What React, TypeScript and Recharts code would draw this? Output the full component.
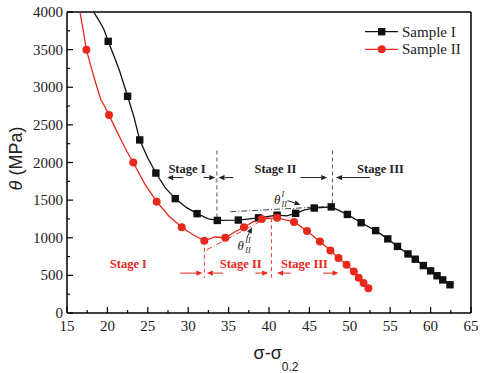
import React from 'react';
import { LineChart, Line, XAxis, YAxis, ReferenceLine, ReferenceDot, Legend } from 'recharts';

// ---- Data ----
const sampleIx = [18.3, 19.0, 19.6, 20.1, 20.8, 21.5, 22.5, 23.3, 24.0, 25.0, 26.0, 27.2, 28.4, 29.8, 31.1, 32.5, 33.6, 36.2, 38.7, 41.0, 42.2, 43.3, 44.4, 45.6, 47.7, 49.7, 51.4, 53.2, 54.7, 55.9, 57.2, 58.1, 59.1, 60.0, 60.8, 61.5, 62.4];
const sampleIy = [4000, 3880, 3760, 3610, 3420, 3220, 2880, 2600, 2300, 2060, 1860, 1660, 1520, 1400, 1320, 1250, 1230, 1235, 1265, 1300, 1290, 1325, 1370, 1395, 1410, 1310, 1200, 1095, 985, 885, 785, 715, 630, 560, 495, 440, 375];
const sampleImark = [0, 0, 0, 1, 0, 0, 1, 0, 1, 0, 1, 0, 1, 0, 1, 0, 1, 1, 1, 1, 0, 1, 0, 1, 1, 1, 1, 1, 1, 1, 1, 1, 1, 1, 1, 1, 1];

const sampleIIx = [16.6, 17.0, 17.4, 18.0, 18.6, 19.2, 19.6, 20.2, 21.0, 21.7, 22.4, 23.2, 24.6, 26.1, 27.6, 29.2, 30.6, 32.0, 33.3, 34.6, 35.8, 36.9, 38.0, 39.1, 41.0, 43.1, 44.7, 46.3, 47.6, 48.6, 49.6, 50.5, 51.1, 51.7, 52.3];
const sampleIIy = [4000, 3760, 3500, 3260, 3040, 2830, 2760, 2630, 2450, 2300, 2150, 2000, 1720, 1480, 1290, 1140, 1040, 960, 1010, 1000, 1080, 1140, 1210, 1250, 1265, 1210, 1090, 950, 830, 730, 640, 550, 470, 400, 330];
const sampleIImark = [0, 0, 1, 0, 0, 0, 0, 1, 0, 0, 0, 1, 0, 1, 0, 1, 0, 1, 0, 1, 0, 1, 0, 1, 1, 1, 1, 1, 1, 1, 1, 1, 1, 1, 1];

const xTicks = [15, 17.5, 20, 22.5, 25, 27.5, 30, 32.5, 35, 37.5, 40, 42.5, 45, 47.5, 50, 52.5, 55, 57.5, 60, 62.5, 65];
const yTicks = [0, 250, 500, 750, 1000, 1250, 1500, 1750, 2000, 2250, 2500, 2750, 3000, 3250, 3500, 3750, 4000];

// stage annotations (data coordinates)
const blackBoundaries = [33.55, 47.85];
const blackBoundaryTop = 2160;
const blackBoundaryBottom = [1200, 1410];
const blackStageLabels = ['Stage I', 'Stage II', 'Stage III'];
const blackStageX = [29.85, 40.8, 53.8];
const blackStageY = 1920;
const blackArrowY = 1800;
const blackArrows = [[29.4, 27.4], [31.9, 33.35], [35.6, 33.75], [43.9, 47.2], [52.5, 48.3]];

const redBoundaries = [32.0, 40.3];
const redBoundaryTop = [960, 1260];
const redBoundaryBottom = 470;
const redStageLabels = ['Stage I', 'Stage II', 'Stage III'];
const redStageX = [22.6, 36.5, 44.4];
const redStageY = 645;
const redArrowY = 530;
const redArrows = [[29.0, 31.75], [34.3, 32.3], [38.3, 39.9], [42.7, 41.0], [46.7, 48.6]];

const blackTangent = [[35.2, 1345], [48.0, 1420]];
const redTangent = [[32.3, 840], [40.4, 1300]];
const thetaIPos = [41.0, 1507];
const thetaIArrow = [[42.3, 1493], [43.9, 1440]];
const thetaIIPos = [36.5, 895];
const thetaIIArrow = [[37.3, 1010], [37.9, 1140]];

const BLACK = '#111111';
const RED = '#e8281c';
const SERIF = 'Liberation Serif, Times New Roman, serif';
const SANS = 'Liberation Sans, Arial, sans-serif';

const sampleIData = sampleIx.map((x, i) => ({ x, y: sampleIy[i], m: sampleImark[i] }));
const sampleIIData = sampleIIx.map((x, i) => ({ x, y: sampleIIy[i], m: sampleIImark[i] }));

const SquareDot = (props: any) => {
  const { cx, cy, payload, index } = props;
  if (!payload || !payload.m || cx == null || cy == null) return <g key={'s' + index} />;
  return <rect key={'s' + index} x={cx - 3.7} y={cy - 3.7} width={7.4} height={7.4} fill={BLACK} />;
};
const CircleDot = (props: any) => {
  const { cx, cy, payload, index } = props;
  if (!payload || !payload.m || cx == null || cy == null) return <g key={'c' + index} />;
  return <circle key={'c' + index} cx={cx} cy={cy} r={4} fill={RED} />;
};

const XTick = (props: any) => {
  const { x, y, payload } = props;
  const v = payload.value;
  const major = Math.abs(v % 5) < 1e-6;
  return (
    <g>
      <line x1={x} x2={x} y1={y} y2={y - (major ? 6 : 3)} stroke="#000" strokeWidth={1.2} />
      {major && (
        <text x={x} y={y + 18} textAnchor="middle" style={{ fontFamily: SERIF }} fontSize={15} fill="#222">{v}</text>
      )}
    </g>
  );
};
const YTick = (props: any) => {
  const { x, y, payload } = props;
  const v = payload.value;
  const major = v % 500 === 0;
  return (
    <g>
      <line x1={x} x2={x + (major ? 6 : 3)} y1={y} y2={y} stroke="#000" strokeWidth={1.2} />
      {major && (
        <text x={x - 4} y={y + 5} textAnchor="end" style={{ fontFamily: SERIF }} fontSize={15} fill="#222">{v}</text>
      )}
    </g>
  );
};

const makeArrow = (color: string) => (p: any) => {
  const { x1, y1, x2, y2 } = p;
  const dx = x2 - x1, dy = y2 - y1;
  const len = Math.sqrt(dx * dx + dy * dy) || 1;
  const ux = dx / len, uy = dy / len;
  const hl = 6, hw = 2.6;
  const bx = x2 - ux * hl, by = y2 - uy * hl;
  return (
    <g>
      <line x1={x1} y1={y1} x2={bx} y2={by} stroke={color} strokeWidth={1} />
      <polygon points={`${x2},${y2} ${bx - uy * hw},${by + ux * hw} ${bx + uy * hw},${by - ux * hw}`} fill={color} />
    </g>
  );
};

const makeText = (label: string, color: string) => (p: any) => (
  <text x={p.cx} y={p.cy} textAnchor="middle" dominantBaseline="central" style={{ fontFamily: SERIF }} fontWeight="bold" fontSize={12.5} fill={color}>{label}</text>
);

const makeTheta = (sup: string, sub: string) => (p: any) => (
  <g style={{ fontFamily: SERIF }} fill="#222">
    <text x={p.cx} y={p.cy + 4} fontSize={13} fontStyle="italic" textAnchor="middle">θ</text>
    <text x={p.cx + 4.5} y={p.cy - 3} fontSize={8} fontStyle="italic">{sup}</text>
    <text x={p.cx + 4.5} y={p.cy + 7} fontSize={8} fontStyle="italic">{sub}</text>
  </g>
);

const LegendContent = () => (
  <svg width={110} height={40}>
    <line x1={3} x2={36} y1={9.7} y2={9.7} stroke={BLACK} strokeWidth={1.3} />
    <rect x={19.7 - 3.7} y={9.7 - 3.7} width={7.4} height={7.4} fill={BLACK} />
    <text x={40} y={14.5} style={{ fontFamily: SERIF }} fontSize={15} fill="#222">Sample I</text>
    <line x1={3} x2={36} y1={27.3} y2={27.3} stroke={RED} strokeWidth={1.3} />
    <circle cx={19.7} cy={27.3} r={4} fill={RED} />
    <text x={40} y={32} style={{ fontFamily: SERIF }} fontSize={15} fill="#222">Sample II</text>
  </svg>
);

const XLabel = (props: any) => {
  const vb = props.viewBox || { x: 67, y: 313, width: 404, height: 60 };
  const cx = vb.x + vb.width / 2 + 7;
  const by = vb.y + 46;
  return (
    <text x={cx} y={by} textAnchor="middle" style={{ fontFamily: SANS }} fontSize={18} fill="#222">
      σ-σ<tspan fontSize={12} dy={12}>0.2</tspan>
    </text>
  );
};
const YLabel = () => (
  <text x={16} y={158.5} transform="rotate(-90, 16, 158.5)" textAnchor="middle" dominantBaseline="central" style={{ fontFamily: SANS }} fontSize={18} fill="#222">
    <tspan fontStyle="italic">θ</tspan> (MPa)
  </text>
);

export default function App() {
  return (
    <div style={{ position: 'absolute', left: 0, top: 0 }}>
      <LineChart width={484} height={373} margin={{ top: 12, right: 13, bottom: 0, left: 0 }}>
        <XAxis type="number" dataKey="x" domain={[15, 65]} ticks={xTicks} interval={0} allowDataOverflow
          tickSize={0} tickMargin={0} tick={<XTick />} height={60} stroke="#000" strokeWidth={1.5}
          label={{ content: (p: any) => <XLabel {...p} /> }} />
        <YAxis type="number" dataKey="y" domain={[0, 4000]} ticks={yTicks} interval={0} allowDataOverflow
          tickSize={0} tickMargin={0} tick={<YTick />} width={67} stroke="#000" strokeWidth={1.5}
          label={{ content: () => <YLabel /> }} />
        <ReferenceLine y={4000} stroke="#000" strokeWidth={1.5} ifOverflow="visible" />
        <ReferenceLine x={65} stroke="#000" strokeWidth={1.5} ifOverflow="visible" />

        {blackBoundaries.map((bx, i) => (
          <ReferenceLine key={'bb' + i} segment={[{ x: bx, y: blackBoundaryTop }, { x: bx, y: blackBoundaryBottom[i] }]}
            stroke="#444" strokeWidth={0.9} strokeDasharray="4 3" ifOverflow="visible" />
        ))}
        {redBoundaries.map((rx, i) => (
          <ReferenceLine key={'rb' + i} segment={[{ x: rx, y: redBoundaryTop[i] }, { x: rx, y: redBoundaryBottom }]}
            stroke={RED} strokeWidth={0.9} strokeDasharray="4 3" ifOverflow="visible" />
        ))}
        <ReferenceLine segment={[{ x: blackTangent[0][0], y: blackTangent[0][1] }, { x: blackTangent[1][0], y: blackTangent[1][1] }]}
          stroke="#333" strokeWidth={0.9} strokeDasharray="6 2 1 2" ifOverflow="visible" />
        <ReferenceLine segment={[{ x: redTangent[0][0], y: redTangent[0][1] }, { x: redTangent[1][0], y: redTangent[1][1] }]}
          stroke={RED} strokeWidth={0.9} strokeDasharray="6 2 1 2" ifOverflow="visible" />

        {blackArrows.map((a, i) => (
          <ReferenceLine key={'ba' + i} segment={[{ x: a[0], y: blackArrowY }, { x: a[1], y: blackArrowY }]}
            ifOverflow="visible" shape={makeArrow('#222')} />
        ))}
        {redArrows.map((a, i) => (
          <ReferenceLine key={'ra' + i} segment={[{ x: a[0], y: redArrowY }, { x: a[1], y: redArrowY }]}
            ifOverflow="visible" shape={makeArrow(RED)} />
        ))}
        <ReferenceLine segment={[{ x: thetaIArrow[0][0], y: thetaIArrow[0][1] }, { x: thetaIArrow[1][0], y: thetaIArrow[1][1] }]}
          ifOverflow="visible" shape={makeArrow('#222')} />
        <ReferenceLine segment={[{ x: thetaIIArrow[0][0], y: thetaIIArrow[0][1] }, { x: thetaIIArrow[1][0], y: thetaIIArrow[1][1] }]}
          ifOverflow="visible" shape={makeArrow('#222')} />

        {blackStageLabels.map((s, i) => (
          <ReferenceDot key={'bs' + i} x={blackStageX[i]} y={blackStageY} ifOverflow="visible" shape={makeText(s, '#222')} />
        ))}
        {redStageLabels.map((s, i) => (
          <ReferenceDot key={'rs' + i} x={redStageX[i]} y={redStageY} ifOverflow="visible" shape={makeText(s, RED)} />
        ))}
        <ReferenceDot x={thetaIPos[0]} y={thetaIPos[1]} ifOverflow="visible" shape={makeTheta('I', 'II')} />
        <ReferenceDot x={thetaIIPos[0]} y={thetaIIPos[1]} ifOverflow="visible" shape={makeTheta('II', 'II')} />

        <Line data={sampleIData} dataKey="y" name="Sample I" stroke={BLACK} strokeWidth={1.3} type="linear"
          dot={(p: any) => <SquareDot {...p} />} activeDot={false} isAnimationActive={false} />
        <Line data={sampleIIData} dataKey="y" name="Sample II" stroke={RED} strokeWidth={1.3} type="linear"
          dot={(p: any) => <CircleDot {...p} />} activeDot={false} isAnimationActive={false} />

        <Legend layout="vertical" align="center" verticalAlign="middle" content={() => <LegendContent />}
          wrapperStyle={{ left: 362, top: 22, width: 110, height: 40 }} />
      </LineChart>
    </div>
  );
}
